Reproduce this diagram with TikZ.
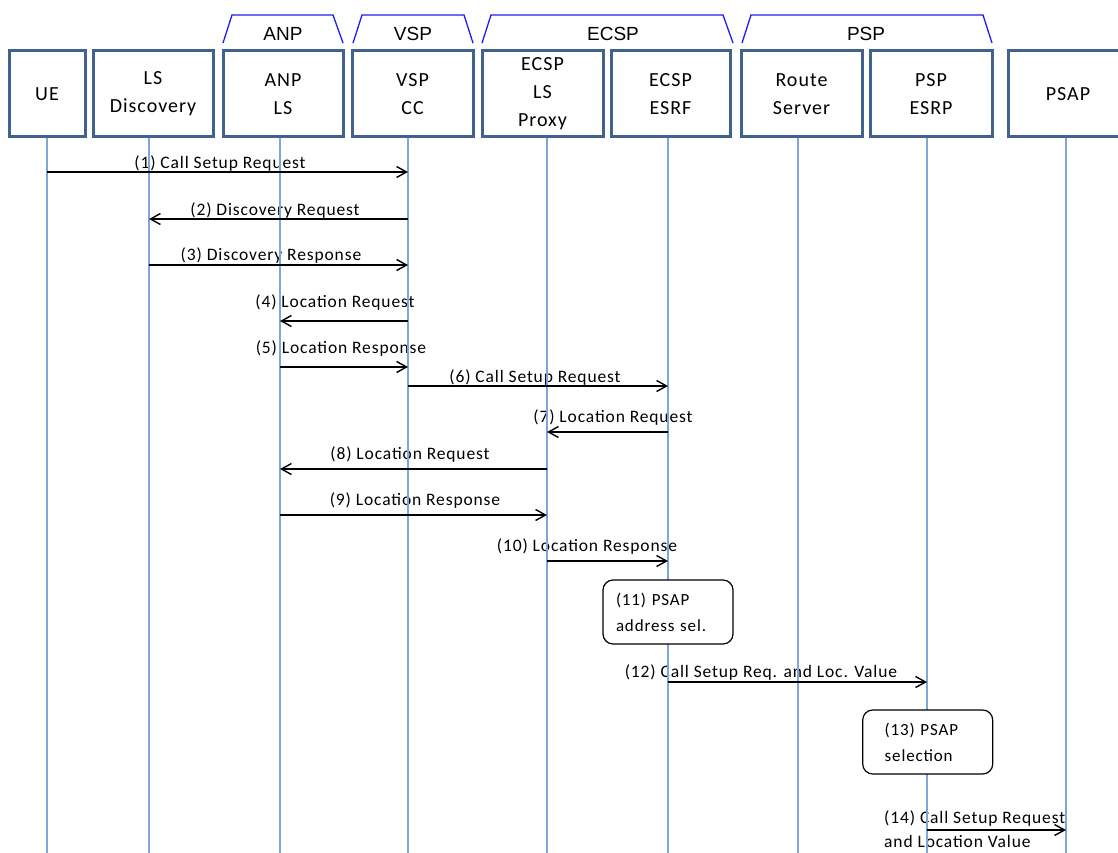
\documentclass[tikz,border=0pt]{standalone}
\usepackage{fontspec}
\usetikzlibrary{arrows.meta}
\newfontfamily\calfont[LetterSpace=5]{Carlito}
\newfontfamily\arialfont{Liberation Sans}
\definecolor{boxblue}{HTML}{41628F}
\definecolor{lifeblue}{HTML}{7EA6DA}
\definecolor{grpblue}{HTML}{1E1EF0}
\tikzset{
  part/.style={draw=boxblue, line width=3pt, fill=white, minimum height=86pt, inner sep=0pt,
    align=center, font=\calfont\fontsize{20}{28}\selectfont},
  grp/.style={draw=grpblue, line width=1.3pt},
  grplbl/.style={font=\arialfont\fontsize{19}{22}\selectfont, anchor=base, inner sep=0pt},
  lbl/.style={font=\calfont\fontsize{17.5}{22}\selectfont, anchor=base, inner sep=0pt},
  life/.style={draw=lifeblue, line width=1.3pt},
  msg/.style={draw=black, line width=1.4pt, -{Straight Barb[length=10pt,width=11pt,line width=1.4pt]}},
  proc/.style={draw=black, line width=1.2pt, rounded corners=10pt, fill=white, minimum width=130pt,
    minimum height=64pt, align=left, font=\calfont\fontsize{17}{26}\selectfont, inner ysep=0pt}
}
\begin{document}
\begin{tikzpicture}[x=1pt,y=-1pt]
\useasboundingbox (0,0) rectangle (1118,853);
\fill[white] (0,0) rectangle (1118,853);
% lifeline x positions and bottom
\coordinate (xUE) at (47,0);
\coordinate (xLS) at (149,0);
\coordinate (xANP) at (280,0);
\coordinate (xVSP) at (408,0);
\coordinate (xPRX) at (547,0);
\coordinate (xESRF) at (668,0);
\coordinate (xRS) at (798,0);
\coordinate (xESRP) at (927,0);
\coordinate (xPSAP) at (1066,0);
\coordinate (top) at (0,137);
\coordinate (bot) at (0,853);
% groups
\draw[grp] (223,43) -- (232,15) -- (333,15) -- (343,43);
\draw[grp] (353,43) -- (362,15) -- (464,15) -- (473,43);
\draw[grp] (482,43) -- (491,15) -- (723,15) -- (733,43);
\draw[grp] (742,43) -- (751,15) -- (983,15) -- (992,43);
\node[grplbl] (gANP) at (283,41) {ANP};
\node[grplbl] (gVSP) at (413,41) {VSP};
\node[grplbl] (gECSP) at (613,41) {ECSP};
\node[grplbl] (gPSP) at (866,41) {PSP};
% message labels
\node[lbl] (l1) at (220,168) {(1) Call Setup Request};
\node[lbl] (l2) at (275,215) {(2) Discovery Request};
\node[lbl] (l3) at (271,260) {(3) Discovery Response};
\node[lbl] (l4) at (335,307) {(4) Location Request};
\node[lbl] (l5) at (341,353) {(5) Location Response};
\node[lbl] (l6) at (535,382) {(6) Call Setup Request};
\node[lbl] (l7) at (613,422) {(7) Location Request};
\node[lbl] (l8) at (410,459) {(8) Location Request};
\node[lbl] (l9) at (415,505) {(9) Location Response};
\node[lbl] (l10) at (587,551) {(10) Location Response};
\node[lbl] (l12) at (761,677) {(12) Call Setup Req. and Loc. Value};
\node[lbl, anchor=base west, align=left, font=\calfont\fontsize{17.5}{24}\selectfont] (l14) at (884,847) {(14) Call Setup Request\\and Location Value};
% lifelines
\foreach \p in {xUE,xLS,xANP,xVSP,xPRX,xESRF,xRS,xESRP,xPSAP}
  \draw[life] (\p |- top) -- (\p |- bot);
% messages
\coordinate (y1) at (0,172);
\coordinate (y2) at (0,219);
\coordinate (y3) at (0,265);
\coordinate (y4) at (0,321);
\coordinate (y5) at (0,367);
\coordinate (y6) at (0,386);
\coordinate (y7) at (0,432);
\coordinate (y8) at (0,469);
\coordinate (y9) at (0,515);
\coordinate (y10) at (0,561);
\coordinate (y12) at (0,682);
\coordinate (y14) at (0,830);
\draw[msg] (xUE |- y1) -- (xVSP |- y1);
\draw[msg] (xVSP |- y2) -- (xLS |- y2);
\draw[msg] (xLS |- y3) -- (xVSP |- y3);
\draw[msg] (xVSP |- y4) -- (xANP |- y4);
\draw[msg] (xANP |- y5) -- (xVSP |- y5);
\draw[msg] (xVSP |- y6) -- (xESRF |- y6);
\draw[msg] (xESRF |- y7) -- (xPRX |- y7);
\draw[msg] (xPRX |- y8) -- (xANP |- y8);
\draw[msg] (xANP |- y9) -- (xPRX |- y9);
\draw[msg] (xPRX |- y10) -- (xESRF |- y10);
\draw[msg] (xESRF |- y12) -- (xESRP |- y12);
\draw[msg] (xESRP |- y14) -- (xPSAP |- y14);
% participants
\node[part, minimum width=76pt] (UE) at (47,94) {UE};
\node[part, minimum width=120pt] (LS) at (153,94) {LS\\Discovery};
\node[part, minimum width=120pt] (ANP) at (283,94) {ANP\\LS};
\node[part, minimum width=121pt] (VSP) at (412.5,94) {VSP\\CC};
\node[part, minimum width=121pt] (PRX) at (542.5,94) {ECSP\\LS\\Proxy};
\node[part, minimum width=119pt] (ESRF) at (670.5,94) {ECSP\\ESRF};
\node[part, minimum width=121pt] (RS) at (801.5,94) {Route\\Server};
\node[part, minimum width=122pt] (ESRP) at (931,94) {PSP\\ESRP};
\node[part, minimum width=120pt] (PSAP) at (1068,94) {PSAP};
% process boxes
\node[proc, text width=104pt, inner xsep=13pt] (p11) at (668,612) {(11) PSAP\\address sel.};
\node[proc, text width=86pt, inner xsep=22pt] (p13) at (927.7,742) {(13) PSAP\\selection};
\end{tikzpicture}
\end{document}
